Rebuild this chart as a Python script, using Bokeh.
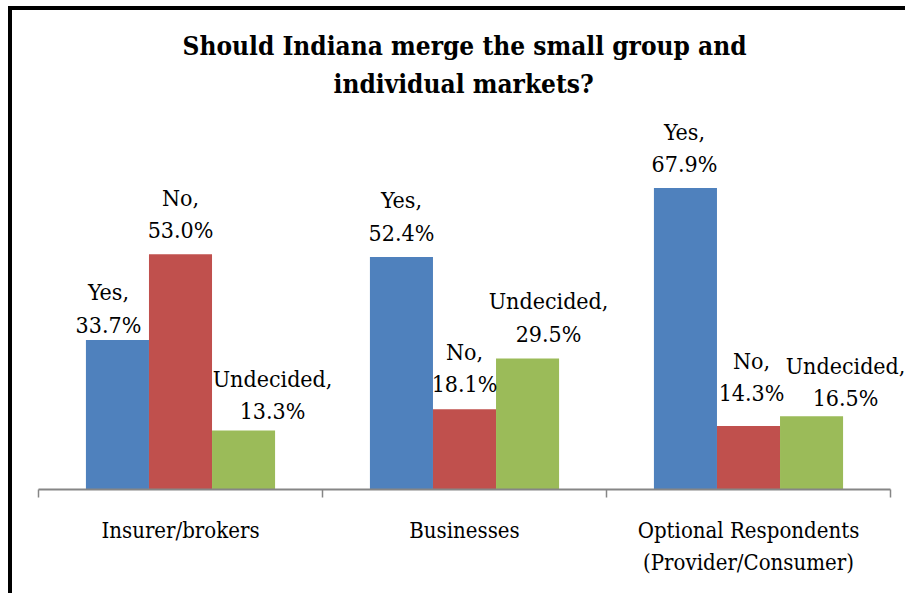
from bokeh.plotting import figure
from bokeh.models import Range1d, FixedTicker, ColumnDataSource, Title
from bokeh.embed import file_html
from bokeh.resources import INLINE
from bokeh.core.properties import value

# ---- data ----
groups = ["Insurer/brokers", "Businesses", "Optional Respondents\n(Provider/Consumer)"]
answers = ["Yes", "No", "Undecided"]
yes = [33.7, 52.4, 67.9]
no = [53.0, 18.1, 14.3]
undecided = [13.3, 29.5, 16.5]
title_lines = ["Should Indiana merge the small group and", "individual markets?"]

# ---- style / layout ----
colors = ["#4F81BD", "#C0504D", "#9BBB59"]
bar_w = 0.222
label_dx = [[-9, 0, 29], [0, 0, 21], [-1, 3, 34]]
label_gap = [[7, 16, 11], [16, 17, 17], [16, 25, 10]]
title_offsets = [144, 295]
FONT = "DejaVu Serif Condensed"

series = [yes, no, undecided]
xs, tops, cols, texts, dxs, dys = [], [], [], [], [], []
for gi in range(len(groups)):
    for ai, ans in enumerate(answers):
        v = series[ai][gi]
        xs.append(gi + 0.5 + (ai - 1) * bar_w)
        tops.append(v)
        cols.append(colors[ai])
        texts.append(f"{ans},\n{v:.1f}%")
        dxs.append(label_dx[gi][ai])
        dys.append(-label_gap[gi][ai] + 5)

src = ColumnDataSource(dict(x=xs, top=tops, color=cols, text=texts, dx=dxs, dy=dys))

fig_w = 897
left_b = 26
frame_px = fig_w - left_b
x_end = 3 * frame_px / 852
p = figure(width=fig_w, height=587, output_backend="svg", toolbar_location=None,
           x_range=Range1d(0, x_end), y_range=Range1d(0, 86.5),
           min_border_left=left_b, min_border_right=0, min_border_top=95, min_border_bottom=108,
           y_axis_location=None)
p.margin = (6, 0, 0, 8)
p.styles = {"border-left": "4px solid black", "border-top": "4px solid black"}
p.outline_line_color = None
p.grid.visible = False
p.background_fill_color = "white"
p.border_fill_color = "white"

for line, so, off in [(title_lines[1], 13, title_offsets[1]), (title_lines[0], 0, title_offsets[0])]:
    p.add_layout(Title(text=line, align="left", text_font=FONT, text_font_size="26px",
                       text_font_style="bold", text_color="black", standoff=so,
                       offset=off, text_line_height=1.0), "above")

p.vbar(x="x", top="top", bottom=0, width=bar_w, fill_color="color", line_color=None, source=src)
p.text(x="x", y="top", text="text", x_offset="dx", y_offset="dy", source=src,
       text_align="center", text_baseline="bottom", text_font=value(FONT),
       text_font_size="23px", text_line_height=1.25, text_color="black")

ax = p.xaxis[0]
ax.bounds = (0, 3)
ax.ticker = FixedTicker(ticks=[0.5, 1.5, 2.5], minor_ticks=[0, 1, 2, 3])
ax.major_label_overrides = {0.5: groups[0], 1.5: groups[1], 2.5: groups[2]}
ax.major_tick_out = 0
ax.major_tick_in = 0
ax.minor_tick_out = 8
ax.minor_tick_in = 0
ax.minor_tick_line_color = "#868686"
ax.minor_tick_line_width = 1.5
ax.axis_line_color = "#868686"
ax.axis_line_width = 2
ax.major_label_standoff = 20
ax.major_label_text_font = FONT
ax.major_label_text_font_size = "22px"
ax.major_label_text_color = "black"
ax.major_label_text_line_height = 1.3

open("out.html", "w").write(file_html(p, INLINE))
